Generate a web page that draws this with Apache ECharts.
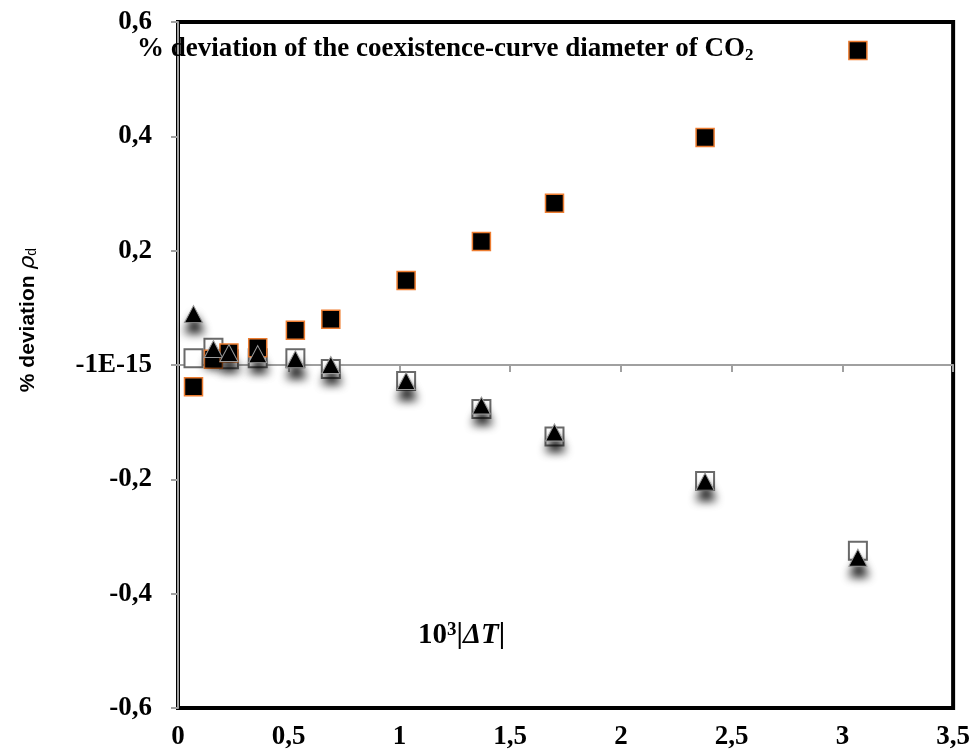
<!DOCTYPE html>
<html>
<head>
    <meta charset="utf-8"/>
    <title>% deviation of the coexistence-curve diameter of CO2</title>
    <script src="https://cdn.jsdelivr.net/npm/echarts@6/dist/echarts.min.js"></script>
    <style>
        html, body {margin: 0; padding: 0; background: #fff;}
        #chart {width: 973px; height: 751px;}
    </style>
</head>
<body>
<div id="chart"></div>
<script>
    // 10^3 |dT|
    var xVals = [0.07, 0.16, 0.23, 0.36, 0.53, 0.69, 1.03, 1.37, 1.70, 2.38, 3.07];
    // black squares (orange border)
    var blackSq = [-0.038, 0.010, 0.021, 0.030, 0.061, 0.080, 0.148, 0.216, 0.283, 0.398, 0.550];
    // open squares
    var whiteSq = [0.012, 0.030, 0.010, 0.012, 0.012, -0.007, -0.028, -0.077, -0.125, -0.203, -0.325];
    // black triangles
    var triVals = [0.089, 0.028, 0.021, 0.019, 0.010, 0.000, -0.028, -0.071, -0.118, -0.204, -0.337];

    function pairs(ys) {
        var out = [];
        for (var i = 0; i < xVals.length; i++) {
            out.push([xVals[i], ys[i]]);
        }
        return out;
    }

    var serif = 'Liberation Serif';
    var myChart = echarts.init(document.getElementById('chart'));
    var option = {
        backgroundColor: '#fff',
        animation: false,
        grid: {
            left: 178,
            right: 14,
            top: 22,
            bottom: 41,
            show: true,
            borderColor: '#000',
            borderWidth: 4,
            backgroundColor: 'transparent'
        },
        title: {
            text: '{t|% deviation of the coexistence-curve diameter of CO}{s|2}',
            left: 137,
            top: 34,
            padding: 0,
            textStyle: {
                rich: {
                    t: {fontFamily: serif, fontWeight: 'bold', fontSize: 27, color: '#000'},
                    s: {fontFamily: serif, fontWeight: 'bold', fontSize: 17, color: '#000', padding: [13, 0, 0, 0]}
                }
            }
        },
        graphic: [
            {
                type: 'text',
                x: 28,
                y: 320,
                rotation: Math.PI / 2,
                style: {
                    text: '{a|% deviation }{r|ρ}{d|d}',
                    align: 'center',
                    verticalAlign: 'middle',
                    rich: {
                        a: {fontFamily: 'Liberation Sans', fontWeight: 'bold', fontSize: 21, fill: '#000'},
                        r: {fontFamily: 'DejaVu Sans', fontStyle: 'italic', fontSize: 22, fill: '#000'},
                        d: {fontFamily: 'Liberation Sans', fontSize: 14, fill: '#000', padding: [9, 0, 0, 0]}
                    }
                }
            },
            {
                type: 'text',
                x: 418,
                y: 636,
                style: {
                    text: '{a|10}{p|3}{a||}{b|ΔT}{a||}',
                    verticalAlign: 'middle',
                    rich: {
                        a: {fontFamily: serif, fontWeight: 'bold', fontSize: 29, fill: '#000'},
                        p: {fontFamily: serif, fontWeight: 'bold', fontSize: 19, fill: '#000', padding: [0, 0, 11, 0]},
                        b: {fontFamily: serif, fontWeight: 'bold', fontStyle: 'italic', fontSize: 29, fill: '#000'}
                    }
                }
            }
        ],
        xAxis: [
            {
                type: 'value',
                min: 0,
                max: 3.5,
                interval: 0.5,
                position: 'bottom',
                axisLine: {show: true, onZero: true, lineStyle: {color: '#a0a0a0', width: 2}},
                axisTick: {show: true, length: 7, lineStyle: {color: '#a0a0a0', width: 2}},
                axisLabel: {show: false},
                splitLine: {show: false}
            },
            {
                type: 'value',
                min: 0,
                max: 3.5,
                interval: 0.5,
                position: 'bottom',
                axisLine: {show: false, onZero: false},
                axisTick: {show: false},
                axisLabel: {
                    show: true,
                    margin: 16,
                    fontFamily: serif,
                    fontWeight: 'bold',
                    fontSize: 27,
                    color: '#000',
                    formatter: function (v) {
                        return String(v).replace('.', ',');
                    }
                },
                splitLine: {show: false}
            }
        ],
        yAxis: {
            type: 'value',
            min: -0.6,
            max: 0.6,
            interval: 0.2,
            axisLine: {show: true, onZero: false, lineStyle: {color: '#a0a0a0', width: 2}},
            axisTick: {show: true, length: 7, lineStyle: {color: '#a0a0a0', width: 2}},
            axisLabel: {
                margin: 26,
                fontFamily: serif,
                fontWeight: 'bold',
                fontSize: 27,
                color: '#000',
                formatter: function (v) {
                    if (Math.abs(v) < 1e-9) return '-1E-15';
                    return v.toFixed(1).replace('.', ',');
                }
            },
            splitLine: {show: false}
        },
        series: [
            {
                name: 'open squares',
                type: 'scatter',
                symbol: 'rect',
                symbolSize: 18,
                itemStyle: {color: '#fff', borderColor: '#6a6a6a', borderWidth: 2, opacity: 1},
                data: pairs(whiteSq)
            },
            {
                name: 'black squares',
                type: 'scatter',
                symbol: 'rect',
                symbolSize: 18,
                itemStyle: {color: '#000', borderColor: '#ed7d31', borderWidth: 1.5, opacity: 1},
                data: pairs(blackSq)
            },
            {
                name: 'triangles',
                type: 'scatter',
                symbol: 'triangle',
                symbolSize: [18, 17],
                itemStyle: {
                    color: '#000',
                    borderColor: '#9a9a9a',
                    borderWidth: 1,
                    opacity: 1,
                    shadowColor: '#000',
                    shadowBlur: 10,
                    shadowOffsetX: 1,
                    shadowOffsetY: 10
                },
                data: pairs(triVals)
            }
        ]
    };
    myChart.setOption(option);
</script>
</body>
</html>
